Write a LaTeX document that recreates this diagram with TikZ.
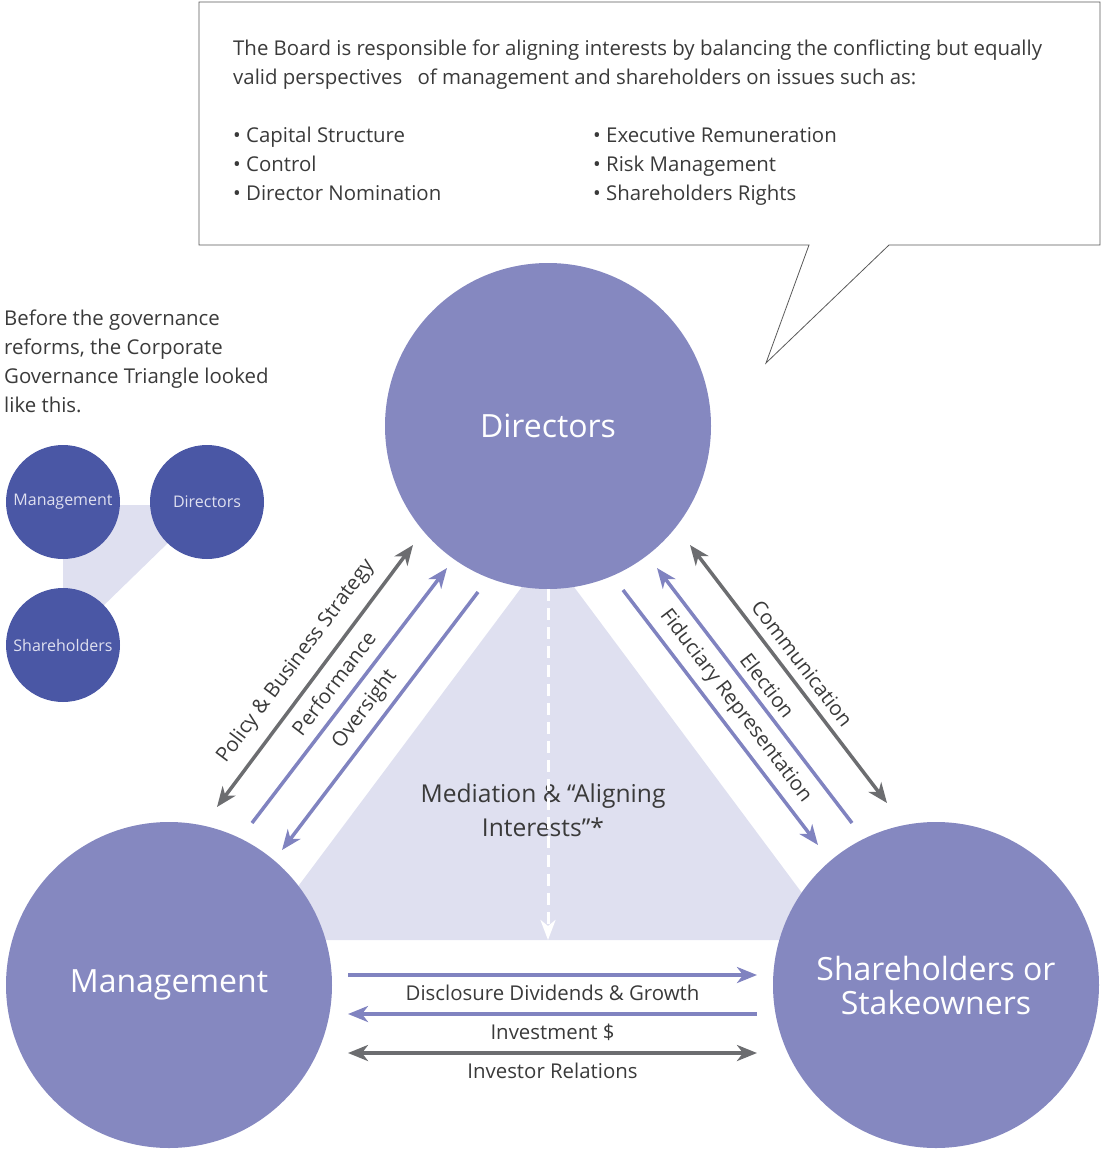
\documentclass[tikz,border=0pt]{standalone}
\usepackage{fontspec}
\setmainfont{Open Sans}
\usetikzlibrary{arrows.meta,backgrounds}
\definecolor{circfill}{RGB}{133,136,192}
\definecolor{oldfill}{RGB}{74,87,165}
\definecolor{triback}{RGB}{223,224,240}
\definecolor{arrowblue}{RGB}{128,131,192}
\definecolor{arrowgray}{RGB}{108,109,112}
\definecolor{txtgray}{RGB}{58,58,58}

\begin{document}
\begin{tikzpicture}[x=1pt, y=-1pt,
    bigcirc/.style={circle, fill=circfill, minimum size=326pt, inner sep=0pt, text=white, align=center, font=\fontsize{32}{34}\selectfont},
    oldcirc/.style={circle, fill=oldfill, minimum size=114pt, inner sep=0pt, text=triback, font=\fontsize{16}{18}\selectfont},
    blueline/.style={draw=arrowblue, line width=3.5pt},
    grayline/.style={draw=arrowgray, line width=3.5pt},
    lbl/.style={text=txtgray, inner sep=0pt, font=\fontsize{20.4}{29}\selectfont},
    >={Stealth[length=20pt, width=16pt, inset=6pt]}]
    \useasboundingbox (0,0) rectangle (1101,1152);

    % Callout box with the Board text
    \draw[draw=black!65, line width=0.8pt] (199,2) -- (1100,2) -- (1100,245) -- (889,245) -- (766,363) -- (809,245) -- (199,245) -- cycle;
    \node[lbl, anchor=north west, align=left] (intro) at (233,40) {The Board is responsible for aligning interests by balancing the conflicting but equally\\valid perspectives \hspace{10pt}of management and shareholders on issues such as:};
    \node[lbl, anchor=north west, align=left] (issues-l) at (233,127) {• Capital Structure\\• Control\\• Director Nomination};
    \node[lbl, anchor=north west, align=left] (issues-r) at (593,127) {• Executive Remuneration\\• Risk Management\\• Shareholders Rights};

    % Old triangle (before the reforms)
    \node[lbl, anchor=north west, align=left] (before) at (4,310) {Before the governance\\reforms, the Corporate\\Governance Triangle looked\\like this.};
    \node[oldcirc] (mgmt-old) at (63,502) {Management};
    \node[oldcirc] (dir-old) at (207,502) {Directors};
    \node[oldcirc] (share-old) at (63,645) {Shareholders};

    % Main triangle
    \node[bigcirc] (dir) at (548,426) {Directors};
    \node[bigcirc] (mgmt) at (169,985) {Management};
    \node[bigcirc] (share) at (936,985) {Shareholders or\\Stakeowners};

    \begin{scope}[on background layer]
        \fill[triback] (mgmt-old.center) ++(0,3) -- ([yshift=-3pt]dir-old.center) -- (share-old.center) -- cycle;
        \fill[triback] (548,552) -- (837,940) -- (258,940) -- cycle;
    \end{scope}

    % Mediation
    \coordinate (med-end) at (548,940);
    \node[lbl, align=center, font=\fontsize{24.6}{34}\selectfont] (med) at (543,810) {Mediation \& “Aligning\\Interests”*};
    \draw[white, line width=3pt, dash pattern=on 12pt off 7pt, -{Stealth[length=20pt, width=15pt, inset=6pt]}] (dir.south) -- (med-end);

    % Directors <-> Management
    \coordinate (pbs-a) at (217,807);
    \coordinate (pbs-b) at (413,545);
    \coordinate (perf-a) at (252,823);
    \coordinate (perf-b) at (447,568);
    \coordinate (over-a) at (282,850);
    \coordinate (over-b) at (478,592);
    \draw[grayline, <->] (pbs-a) -- node[lbl, midway, sloped, above=12pt] (pbs-lbl) {Policy \& Business Strategy} (pbs-b);
    \draw[blueline, ->] (perf-a) -- node[lbl, midway, sloped, above=10.5pt] (perf-lbl) {Performance} (perf-b);
    \draw[blueline, <-] (over-a) -- node[lbl, midway, sloped, above=7pt] (over-lbl) {Oversight} (over-b);

    % Directors <-> Shareholders
    \coordinate (comm-a) at (690,545);
    \coordinate (comm-b) at (887,803);
    \coordinate (elec-a) at (657,568);
    \coordinate (elec-b) at (852,823);
    \coordinate (fid-a) at (623,590);
    \coordinate (fid-b) at (818,845);
    \draw[grayline, <->] (comm-a) -- node[lbl, midway, sloped, above=8pt] (comm-lbl) {Communication} (comm-b);
    \draw[blueline, <-] (elec-a) -- node[lbl, midway, sloped, above=7pt] (elec-lbl) {Election} (elec-b);
    \draw[blueline, ->] (fid-a) -- node[lbl, midway, sloped, above=7pt] (fid-lbl) {Fiduciary Representation} (fid-b);

    % Management <-> Shareholders
    \coordinate (disc-a) at (348,975);
    \coordinate (disc-b) at (757,975);
    \coordinate (inv-a) at (348,1014);
    \coordinate (inv-b) at (757,1014);
    \coordinate (ir-a) at (348,1053);
    \coordinate (ir-b) at (757,1053);
    \draw[blueline, ->] (disc-a) -- node[lbl, midway, below=8.5pt] (disc-lbl) {Disclosure Dividends \& Growth} (disc-b);
    \draw[blueline, <-] (inv-a) -- node[lbl, midway, below=8.5pt] (inv-lbl) {Investment \$} (inv-b);
    \draw[grayline, <->] (ir-a) -- node[lbl, midway, below=8.5pt] (ir-lbl) {Investor Relations} (ir-b);
\end{tikzpicture}
\end{document}
